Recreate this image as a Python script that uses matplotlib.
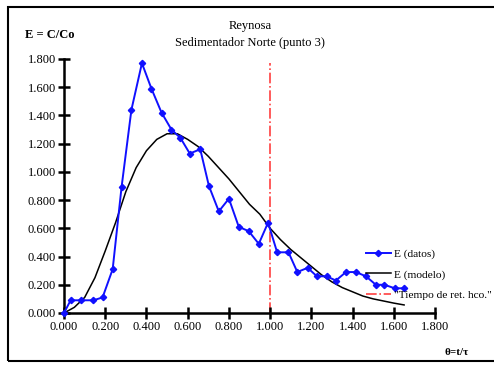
import matplotlib
matplotlib.use("Agg")
import matplotlib.pyplot as plt
from matplotlib.patches import Rectangle

plt.rcParams['font.family'] = ['Liberation Serif', 'DejaVu Serif']

# datos medidos
theta_datos = [0.000, 0.032, 0.081, 0.142, 0.187, 0.236, 0.279, 0.327, 0.378, 0.424,
               0.473, 0.521, 0.565, 0.610, 0.661, 0.703, 0.751, 0.800, 0.848, 0.896,
               0.945, 0.990, 1.034, 1.089, 1.132, 1.182, 1.227, 1.274, 1.319, 1.368,
               1.416, 1.465, 1.513, 1.554, 1.605, 1.650]
E_datos = [0.000, 0.090, 0.090, 0.090, 0.110, 0.310, 0.890, 1.440, 1.770, 1.590,
           1.420, 1.300, 1.240, 1.130, 1.160, 0.900, 0.720, 0.810, 0.610, 0.580,
           0.490, 0.640, 0.430, 0.430, 0.290, 0.320, 0.260, 0.260, 0.230, 0.290,
           0.290, 0.260, 0.200, 0.200, 0.175, 0.175]

# modelo
theta_modelo = [0.00, 0.05, 0.10, 0.15, 0.20, 0.25, 0.30, 0.35, 0.40, 0.45, 0.50,
                0.55, 0.60, 0.65, 0.70, 0.75, 0.80, 0.85, 0.90, 0.95, 1.00, 1.05,
                1.10, 1.15, 1.20, 1.25, 1.30, 1.35, 1.40, 1.45, 1.50, 1.55, 1.60, 1.65]
E_modelo = [0.00, 0.04, 0.11, 0.25, 0.44, 0.64, 0.86, 1.03, 1.15, 1.23, 1.27,
            1.27, 1.23, 1.18, 1.11, 1.03, 0.95, 0.86, 0.77, 0.70, 0.60, 0.52,
            0.45, 0.39, 0.33, 0.27, 0.22, 0.18, 0.15, 0.12, 0.10, 0.085, 0.07, 0.057]

ticks = [0.0, 0.2, 0.4, 0.6, 0.8, 1.0, 1.2, 1.4, 1.6, 1.8]
tick_labels = ['0.000', '0.200', '0.400', '0.600', '0.800',
               '1.000', '1.200', '1.400', '1.600', '1.800']

fig = plt.figure(figsize=(4.94, 3.65), dpi=100)
fig.patches.append(Rectangle((0.017, 0.011), 1.2, 0.97, transform=fig.transFigure,
                             fill=False, edgecolor='black', linewidth=1.5))

ax = fig.add_axes([0.1296, 0.1425, 0.751, 0.696])
ax.plot(theta_datos, E_datos, color='#1010ff', marker='D', markersize=3.2,
        linewidth=1.4, label='E (datos)', zorder=3)
ax.plot(theta_modelo, E_modelo, color='black', linewidth=1.1,
        label='E (modelo)', zorder=2)
ax.plot([1.0, 1.0], [0.0, 1.77], color='#ff4040', linestyle='-.', linewidth=1.2,
        label='"Tiempo de ret. hco."', zorder=1)

ax.set_xlim(0, 1.8)
ax.set_ylim(0, 1.8)
ax.set_xticks(ticks)
ax.set_xticklabels(tick_labels)
ax.set_yticks(ticks)
ax.set_yticklabels(tick_labels)
for s in ['top', 'right']:
    ax.spines[s].set_visible(False)
for s in ['left', 'bottom']:
    ax.spines[s].set_linewidth(1.8)
ax.tick_params(direction='inout', length=8, width=1.8, labelsize=9, pad=2)
for ln in ax.lines:
    ln.set_clip_on(False)

fig.text(0.506, 0.928, 'Reynosa', ha='center', va='center', fontsize=9)
fig.text(0.506, 0.881, 'Sedimentador Norte (punto 3)', ha='center', va='center', fontsize=9)
fig.text(0.05, 0.905, 'E = C/Co', ha='left', va='center', fontsize=9, fontweight='bold')
fig.text(0.925, 0.035, 'θ=t/τ', ha='center', va='center', fontsize=8, fontweight='bold')

fig.legend(loc='upper left', bbox_to_anchor=(0.74, 0.318), frameon=False,
           fontsize=8.2, handlelength=2.2, handletextpad=0.3, labelspacing=0.9,
           borderpad=0, borderaxespad=0)

fig.savefig('out.png', dpi=100)
